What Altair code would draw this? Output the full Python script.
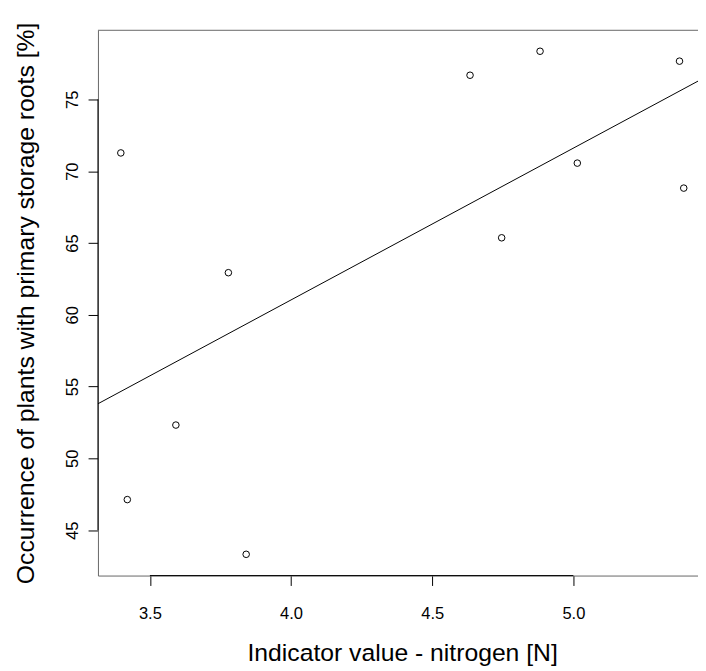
import altair as alt
import pandas as pd

# Data
n_value = [3.397, 3.778, 4.634, 4.882, 5.376, 5.014, 5.391, 4.746, 3.592, 3.420, 3.841]
storage_roots = [71.27, 62.93, 76.68, 78.35, 77.66, 70.56, 68.82, 65.36, 52.32, 47.13, 43.32]

x_ticks = [3.5, 4.0, 4.5, 5.0]
y_ticks = [45, 50, 55, 60, 65, 70, 75]
x_domain = [3.316, 5.4415]
y_domain = [41.84, 79.81]

x_title = "Indicator value - nitrogen [N]"
y_title = "Occurrence of plants with primary storage roots [%]"

FONT = "Liberation Sans"

df = pd.DataFrame({"x": n_value, "y": storage_roots})

xs = alt.Scale(domain=x_domain, nice=False, zero=False)
ys = alt.Scale(domain=y_domain, nice=False, zero=False)

x_axis = alt.Axis(
    values=x_ticks, format=".1f", grid=False, domain=True, domainColor="#666666",
    tickColor="black", tickSize=10, labelFont=FONT, labelFontSize=16.7, labelColor="black",
    labelPadding=20, labelBaseline="top", title=x_title, titleFont=FONT, titleFontSize=25,
    titleFontWeight="normal", titleColor="black", titleBaseline="alphabetic",
    titleX=307.7, titleY=86, titleAnchor="middle", titleAlign="center",
)
y_axis = alt.Axis(
    values=y_ticks, format="d", grid=False, domain=True, domainColor="#666666",
    tickColor="black", tickSize=10, labelFont=FONT, labelFontSize=16.7, labelColor="black",
    labelAngle=270, labelAlign="center", labelBaseline="alphabetic", labelPadding=11,
    title=y_title, titleFont=FONT, titleFontSize=25, titleFontWeight="normal",
    titleColor="black", titleBaseline="alphabetic", titleAngle=270,
    titleX=-65.5, titleY=275.8, titleAlign="center",
)

X = alt.X("x:Q", scale=xs, axis=x_axis, title=x_title)
Y = alt.Y("y:Q", scale=ys, axis=y_axis, title=y_title)

points = alt.Chart(df).mark_point(
    shape="circle", filled=False, color="black", strokeWidth=1, size=44, opacity=1
).encode(x=X, y=Y)

fit = alt.Chart(df).transform_regression(
    "x", "y", extent=x_domain
).mark_line(color="black", strokeWidth=1).encode(x=X, y=Y)

# box top edge (gray)
top_df = pd.DataFrame({"x": [x_domain[0]], "x2": [x_domain[1]], "y": [y_domain[1]]})
top_rule = alt.Chart(top_df).mark_rule(color="#666666", strokeWidth=1).encode(
    x=X, x2="x2:Q", y=Y
)

# axis lines from first to last tick (black, as in R)
bx_df = pd.DataFrame({"x": [x_ticks[0]], "x2": [x_ticks[-1]], "y": [y_domain[0]]})
bottom_axis_line = alt.Chart(bx_df).mark_rule(color="black", strokeWidth=1).encode(
    x=X, x2="x2:Q", y=Y
)
ly_df = pd.DataFrame({"x": [x_domain[0]], "y": [y_ticks[0]], "y2": [y_ticks[-1]]})
left_axis_line = alt.Chart(ly_df).mark_rule(color="black", strokeWidth=1).encode(
    x=X, y=Y, y2="y2:Q"
)

chart = alt.layer(points, fit, top_rule, bottom_axis_line, left_axis_line).properties(
    width=607,
    height=551.6,
    autosize=alt.AutoSizeParams(type="none"),
    padding={"left": 91, "top": 18.7, "right": 0, "bottom": 92.7},
    background="white",
).configure_view(stroke=None)

chart.save("out.html", embed_options={"renderer": "svg", "actions": False})
